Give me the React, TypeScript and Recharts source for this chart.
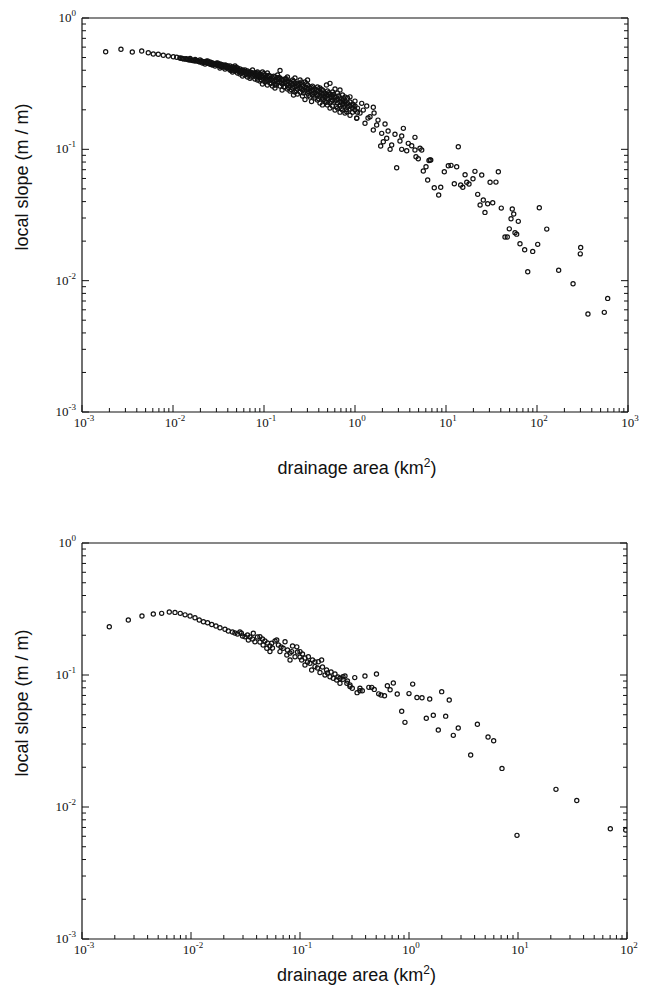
import React from 'react';
import { ScatterChart, Scatter, XAxis, YAxis } from 'recharts';

// [drainage area (km2), local slope (m/m)]
const upperLead: [number, number][] = [
  [0.00182, 0.553], [0.00268, 0.578], [0.00357, 0.551], [0.00453, 0.561], [0.00535, 0.544],
  [0.00607, 0.532], [0.00689, 0.529], [0.00782, 0.52], [0.00888, 0.513], [0.01008, 0.507],
  [0.01098, 0.502],
];

const upperBand: [number, number][] = [
  [0.0119, 0.496], [0.0127, 0.492], [0.0136, 0.487], [0.0145, 0.483], [0.0154, 0.479], [0.0154, 0.492],
  [0.0164, 0.475], [0.0175, 0.471], [0.0175, 0.483], [0.0186, 0.471], [0.0198, 0.462], [0.0198, 0.479],
  [0.0211, 0.466], [0.0211, 0.454], [0.0225, 0.462], [0.0225, 0.447], [0.024, 0.454], [0.024, 0.471],
  [0.0255, 0.447], [0.0255, 0.462], [0.0272, 0.454], [0.0272, 0.439], [0.029, 0.447], [0.029, 0.431],
  [0.0309, 0.439], [0.0309, 0.454], [0.0328, 0.431], [0.0328, 0.447], [0.0328, 0.416], [0.035, 0.439],
  [0.035, 0.424], [0.0373, 0.424], [0.0373, 0.439], [0.0373, 0.409], [0.0397, 0.431], [0.0397, 0.416],
  [0.0423, 0.416], [0.0423, 0.431], [0.0423, 0.402], [0.0451, 0.409], [0.0451, 0.424], [0.0451, 0.388],
  [0.048, 0.409], [0.048, 0.395], [0.048, 0.431], [0.0512, 0.402], [0.0512, 0.416], [0.0512, 0.381],
  [0.0545, 0.395], [0.0545, 0.409], [0.0545, 0.375], [0.0581, 0.402], [0.0581, 0.388], [0.0581, 0.362],
  [0.0618, 0.388], [0.0618, 0.402], [0.0618, 0.368], [0.0659, 0.381], [0.0659, 0.395], [0.0659, 0.355],
  [0.0702, 0.375], [0.0702, 0.388], [0.0702, 0.347], [0.0748, 0.381], [0.0748, 0.362], [0.0748, 0.402],
  [0.0796, 0.368], [0.0796, 0.381], [0.0796, 0.343], [0.0848, 0.362], [0.0848, 0.375], [0.0848, 0.337],
  [0.0848, 0.388], [0.0903, 0.355], [0.0903, 0.375], [0.0903, 0.331], [0.0962, 0.362], [0.0962, 0.349],
  [0.0962, 0.314], [0.0962, 0.388], [0.1025, 0.343], [0.1025, 0.368], [0.1025, 0.326], [0.109, 0.355],
  [0.109, 0.337], [0.109, 0.309], [0.109, 0.381], [0.116, 0.337], [0.116, 0.362], [0.116, 0.32],
  [0.124, 0.349], [0.124, 0.331], [0.124, 0.303], [0.132, 0.331], [0.132, 0.355], [0.132, 0.314],
  [0.132, 0.293], [0.141, 0.343], [0.141, 0.32], [0.141, 0.368], [0.15, 0.326], [0.15, 0.349],
  [0.15, 0.303], [0.15, 0.399], [0.16, 0.314], [0.16, 0.337], [0.158, 0.283], [0.17, 0.32],
  [0.17, 0.343], [0.17, 0.298], [0.181, 0.309], [0.181, 0.331], [0.181, 0.355], [0.181, 0.288],
  [0.193, 0.303], [0.193, 0.326], [0.193, 0.278], [0.206, 0.314], [0.206, 0.293], [0.206, 0.337],
  [0.211, 0.259], [0.219, 0.298], [0.219, 0.32], [0.219, 0.273], [0.219, 0.349], [0.233, 0.288],
  [0.233, 0.309], [0.233, 0.264], [0.249, 0.293], [0.249, 0.314], [0.249, 0.273], [0.249, 0.337],
  [0.265, 0.283], [0.265, 0.303], [0.265, 0.255], [0.282, 0.278], [0.282, 0.298], [0.282, 0.2395],
  [0.282, 0.326], [0.301, 0.288], [0.301, 0.268], [0.301, 0.309], [0.301, 0.337], [0.32, 0.273],
  [0.32, 0.293], [0.32, 0.25], [0.333, 0.231], [0.341, 0.264], [0.341, 0.283], [0.341, 0.303],
  [0.363, 0.268], [0.363, 0.288], [0.363, 0.246], [0.387, 0.259], [0.387, 0.278], [0.387, 0.298],
  [0.387, 0.237], [0.412, 0.255], [0.412, 0.273], [0.412, 0.225], [0.412, 0.293], [0.439, 0.264],
  [0.439, 0.246], [0.439, 0.283], [0.439, 0.218], [0.468, 0.25], [0.468, 0.268], [0.468, 0.233],
  [0.486, 0.309], [0.498, 0.242], [0.498, 0.259], [0.498, 0.278], [0.498, 0.218], [0.531, 0.246],
  [0.531, 0.264], [0.531, 0.318], [0.531, 0.225], [0.531, 0.206], [0.566, 0.237], [0.566, 0.255],
  [0.566, 0.273], [0.566, 0.214], [0.603, 0.233], [0.603, 0.25], [0.603, 0.288], [0.603, 0.199],
  [0.642, 0.225], [0.642, 0.242], [0.642, 0.268], [0.642, 0.206], [0.684, 0.283], [0.684, 0.229],
  [0.684, 0.246], [0.684, 0.214], [0.684, 0.192], [0.729, 0.221], [0.729, 0.237], [0.729, 0.259],
  [0.729, 0.199], [0.776, 0.218], [0.776, 0.233], [0.776, 0.25], [0.776, 0.189], [0.827, 0.21],
  [0.827, 0.225], [0.827, 0.246], [0.881, 0.251], [0.881, 0.214], [0.881, 0.229], [0.881, 0.182],
  [0.881, 0.203], [0.938, 0.206], [0.938, 0.221], [0.938, 0.192], [1.0, 0.199], [1.0, 0.214],
  [1.0, 0.233], [1.044, 0.173], [1.065, 0.192], [1.065, 0.206],
];

// extra points filling the densest part of the upper band
const upperBandInfill: [number, number][] = [
  [0.0123, 0.494], [0.0131, 0.488], [0.014, 0.489], [0.0149, 0.481], [0.0159, 0.48], [0.0169, 0.474],
  [0.0181, 0.476], [0.0192, 0.466], [0.0204, 0.47], [0.0218, 0.458], [0.0232, 0.457], [0.0232, 0.468],
  [0.0248, 0.45], [0.0263, 0.456], [0.0263, 0.443], [0.0281, 0.447], [0.0299, 0.441], [0.0299, 0.452],
  [0.0319, 0.435], [0.0339, 0.442], [0.0339, 0.425], [0.0361, 0.431], [0.0385, 0.42], [0.0385, 0.435],
  [0.041, 0.423], [0.0437, 0.412], [0.0437, 0.398], [0.0465, 0.416], [0.0495, 0.404], [0.0495, 0.421],
  [0.0528, 0.392], [0.0563, 0.398], [0.0563, 0.381], [0.06, 0.395], [0.0638, 0.376], [0.0638, 0.389],
  [0.068, 0.368], [0.0725, 0.383], [0.0725, 0.356], [0.0772, 0.372], [0.0822, 0.355], [0.0822, 0.383],
  [0.0875, 0.368], [0.0932, 0.34], [0.0932, 0.358], [0.0993, 0.376], [0.1058, 0.35], [0.1058, 0.333],
  [0.1126, 0.365], [0.12, 0.342], [0.12, 0.318], [0.128, 0.36], [0.136, 0.337], [0.136, 0.308],
  [0.145, 0.352], [0.155, 0.32], [0.155, 0.34], [0.165, 0.3], [0.175, 0.326], [0.175, 0.345],
  [0.187, 0.296], [0.199, 0.318], [0.199, 0.285], [0.212, 0.33], [0.226, 0.303], [0.226, 0.28],
  [0.241, 0.318], [0.257, 0.291], [0.257, 0.325], [0.273, 0.268], [0.291, 0.293], [0.291, 0.316],
  [0.31, 0.258], [0.33, 0.28], [0.33, 0.298], [0.352, 0.255], [0.375, 0.283], [0.375, 0.262],
  [0.399, 0.243], [0.425, 0.268], [0.425, 0.286], [0.453, 0.24], [0.483, 0.262], [0.483, 0.228],
  [0.514, 0.27], [0.548, 0.232], [0.548, 0.251], [0.584, 0.262], [0.622, 0.238], [0.622, 0.212],
  [0.662, 0.255], [0.706, 0.231], [0.706, 0.205], [0.752, 0.242], [0.801, 0.221], [0.801, 0.2],
];

const upperTail: [number, number][] = [
  [0.743, 0.224], [0.957, 0.2175], [1.185, 0.224], [1.345, 0.2138], [1.589, 0.2089], [0.811, 0.1933],
  [1.044, 0.1722], [1.288, 0.1578], [1.462, 0.1771], [1.73, 0.1531], [2.138, 0.1559], [1.589, 0.1403],
  [1.965, 0.1324], [2.75, 0.1301], [3.4, 0.1445], [3.26, 0.1263], [4.56, 0.1234], [2.23, 0.1213],
  [2.046, 0.1142], [2.53, 0.1078], [1.915, 0.106], [2.43, 0.1], [3.12, 0.1157], [3.85, 0.1111],
  [4.2, 0.1065], [3.26, 0.1], [3.7, 0.0976], [4.56, 0.0988], [5.18, 0.1018], [5.41, 0.0988],
  [13.65, 0.1047], [4.68, 0.0879], [4.96, 0.0848], [2.87, 0.0724], [6.67, 0.0829], [6.8, 0.0829],
  [6.5, 0.0822], [6.03, 0.0737], [5.63, 0.0684], [6.29, 0.0584], [7.43, 0.051], [8.75, 0.0514],
  [8.31, 0.0449], [9.58, 0.0675], [10.6, 0.075], [11.35, 0.0755], [13.1, 0.0737], [12.34, 0.0547],
  [14.5, 0.0535], [16.2, 0.0641], [15.3, 0.0514], [16.9, 0.0561], [17.9, 0.0544], [19.8, 0.0597],
  [20.8, 0.068], [24.7, 0.0637], [22.3, 0.0454], [25.7, 0.0411], [23.7, 0.0377], [28.7, 0.0385],
  [26.8, 0.0331], [32.6, 0.0392], [30.5, 0.0561], [35.4, 0.0563], [37.6, 0.0675], [40.5, 0.0357],
  [53.5, 0.0351], [55.5, 0.0322], [51.8, 0.0296], [62.3, 0.0283], [106, 0.0359], [49.6, 0.0248],
  [44.5, 0.0215], [47.2, 0.0215], [57.3, 0.0232], [59.8, 0.0226], [65, 0.0191], [73.2, 0.0172],
  [89.7, 0.0167], [101.8, 0.0189], [128, 0.0247], [79.1, 0.0117], [173, 0.012], [249, 0.00947],
  [302, 0.0179], [299, 0.016], [363, 0.00557], [549, 0.00574], [598, 0.00733], [1.135, 0.189],
  [1.233, 0.199], [1.39, 0.173], [1.79, 0.167], [1.62, 0.189], [2.31, 0.1378],
];

const lowerLead: [number, number][] = [
  [0.00178, 0.2322], [0.00266, 0.261], [0.00355, 0.28], [0.00451, 0.29], [0.00538, 0.293],
  [0.00632, 0.3], [0.00713, 0.298], [0.00797, 0.293], [0.00882, 0.2856], [0.0098, 0.28],
  [0.01088, 0.2718], [0.0119, 0.261], [0.013, 0.253], [0.0142, 0.2486], [0.0155, 0.2412],
  [0.01695, 0.2351], [0.01844, 0.2282], [0.0205, 0.222], [0.022, 0.2155],
];

const lowerBand: [number, number][] = [
  [0.024, 0.2117], [0.0253, 0.2081], [0.0267, 0.2045], [0.0281, 0.2117], [0.029, 0.2072], [0.0297, 0.1975],
  [0.0313, 0.195], [0.033, 0.2009], [0.0336, 0.1841], [0.0348, 0.194], [0.0367, 0.1874], [0.0373, 0.2072],
  [0.0386, 0.1786], [0.0407, 0.194], [0.0429, 0.195], [0.0429, 0.1778], [0.0453, 0.1874], [0.0459, 0.1687],
  [0.0477, 0.1809], [0.0496, 0.1596], [0.0503, 0.1747], [0.053, 0.1504], [0.053, 0.1658], [0.0549, 0.1742],
  [0.0559, 0.1601], [0.059, 0.1809], [0.0612, 0.1841], [0.0634, 0.1687], [0.0655, 0.1504], [0.067, 0.1629],
  [0.0701, 0.1596], [0.0729, 0.1786], [0.0757, 0.1417], [0.0768, 0.1546], [0.081, 0.1299], [0.081, 0.1467],
  [0.084, 0.1504], [0.0854, 0.1658], [0.09, 0.1376], [0.0935, 0.1634], [0.0949, 0.1493], [0.1, 0.1504],
  [0.1, 0.1368], [0.1035, 0.1299], [0.1054, 0.1442], [0.1111, 0.119], [0.1111, 0.1345], [0.1172, 0.1254],
  [0.1193, 0.1376], [0.1235, 0.1226], [0.1279, 0.1091], [0.1302, 0.1299], [0.1372, 0.1158], [0.1372, 0.1254],
  [0.1447, 0.1129], [0.1471, 0.1261], [0.1525, 0.1044], [0.1579, 0.1299], [0.1608, 0.1149], [0.1695, 0.1],
  [0.1752, 0.1091], [0.1787, 0.1035], [0.1884, 0.0971], [0.1927, 0.1053], [0.2018, 0.0944], [0.2094, 0.1017],
  [0.217, 0.0916], [0.223, 0.0966], [0.2327, 0.0866], [0.2327, 0.0944], [0.248, 0.0929], [0.248, 0.0971],
  [0.2586, 0.0983], [0.269, 0.0866], [0.2725, 0.09], [0.2874, 0.084], [0.2874, 0.0817], [0.3019, 0.0793],
  [0.318, 0.0956], [0.334, 0.0735], [0.355, 0.0759], [0.3549, 0.0793], [0.373, 0.0759], [0.3944, 0.0983],
];

const lowerTail: [number, number][] = [
  [0.428, 0.0806], [0.455, 0.0806], [0.48, 0.0778], [0.503, 0.1017], [0.527, 0.072], [0.554, 0.0705],
  [0.596, 0.0697], [0.633, 0.083], [0.671, 0.0774], [0.718, 0.087], [0.78, 0.0718], [0.857, 0.0531],
  [0.918, 0.0438], [1.0, 0.0723], [1.081, 0.0853], [1.183, 0.0676], [1.316, 0.0672], [1.441, 0.047],
  [1.549, 0.0658], [1.671, 0.0495], [1.857, 0.0383], [1.995, 0.0748], [2.17, 0.0488], [2.34, 0.0647],
  [2.55, 0.0349], [2.83, 0.0397], [3.68, 0.0248], [4.24, 0.0423], [5.31, 0.0339], [5.98, 0.0318],
  [7.13, 0.0196], [9.79, 0.0061], [22.3, 0.0136], [34.6, 0.0112], [70.3, 0.00685], [97.3, 0.00669],
];

// axis decades (powers of ten) and the minor multipliers between them
const upperAreaDecades = [-3, -2, -1, 0, 1, 2, 3];
const lowerAreaDecades = [-3, -2, -1, 0, 1, 2];
const slopeDecades = [-3, -2, -1, 0];
const minorSteps = [1, 2, 3, 4, 5, 6, 7, 8, 9];

const INK = '#111';
const SERIF = "'Liberation Serif', 'Times New Roman', serif";
const SANS = "'Liberation Sans', Arial, Helvetica, sans-serif";
const MAJOR = 7;
const MINOR = 4;

const logTicks = (decades: number[]) => {
  const out: number[] = [];
  decades.forEach((e, i) => {
    if (i === decades.length - 1) {
      out.push(Math.pow(10, e));
      return;
    }
    minorSteps.forEach((m) => out.push(Number((m * Math.pow(10, e)).toPrecision(6))));
  });
  return out;
};

const exponentOf = (v: number) => {
  const lg = Math.log10(v);
  const r = Math.round(lg);
  return Math.abs(lg - r) < 1e-6 ? r : null;
};

const toPoints = (rows: [number, number][]) => rows.map(([area, slope]) => ({ area, slope }));

const Pow = ({ x, y, exp, anchor }: { x: number; y: number; exp: number; anchor: 'middle' | 'end' }) => (
  <text x={x} y={y} textAnchor={anchor} fontFamily={SERIF} fontSize={13} fill={INK}>
    10
    <tspan dy={-6} fontSize={9}>
      {exp < 0 ? `-${-exp}` : `${exp}`}
    </tspan>
  </text>
);

const BottomTick = (props: any) => {
  const { x, y, payload } = props;
  const exp = exponentOf(payload.value);
  return (
    <g>
      <line x1={x} x2={x} y1={y} y2={y - (exp !== null ? MAJOR : MINOR)} stroke={INK} strokeWidth={1} />
      {exp !== null && <Pow x={x + 2} y={y + 15} exp={exp} anchor="middle" />}
    </g>
  );
};

const TopTick = (props: any) => {
  const { x, y, payload } = props;
  const exp = exponentOf(payload.value);
  return <line x1={x} x2={x} y1={y} y2={y + (exp !== null ? MAJOR : MINOR)} stroke={INK} strokeWidth={1} />;
};

const LeftTick = (props: any) => {
  const { x, y, payload } = props;
  const exp = exponentOf(payload.value);
  return (
    <g>
      <line x1={x} x2={x + (exp !== null ? MAJOR : MINOR)} y1={y} y2={y} stroke={INK} strokeWidth={1} />
      {exp !== null && <Pow x={x - 6} y={y + 4} exp={exp} anchor="end" />}
    </g>
  );
};

const RightTick = (props: any) => {
  const { x, y, payload } = props;
  const exp = exponentOf(payload.value);
  return <line x1={x} x2={x - (exp !== null ? MAJOR : MINOR)} y1={y} y2={y} stroke={INK} strokeWidth={1} />;
};

const Ring = (props: any) => (
  <circle cx={props.cx} cy={props.cy} r={2.1} fill="none" stroke={INK} strokeWidth={1.2} />
);

interface PanelProps {
  points: { area: number; slope: number }[];
  areaDecades: number[];
  height: number;
  margin: { top: number; right: number; bottom: number; left: number };
  areaTitleDrop: number;
}

const Panel: React.FC<PanelProps> = ({ points, areaDecades, height, margin, areaTitleDrop }) => {
  const areaTicks = logTicks(areaDecades);
  const slopeTicks = logTicks(slopeDecades);
  const areaDomain = [Math.pow(10, areaDecades[0]), Math.pow(10, areaDecades[areaDecades.length - 1])];
  const slopeDomain = [Math.pow(10, slopeDecades[0]), Math.pow(10, slopeDecades[slopeDecades.length - 1])];
  const axisLine = { stroke: INK, strokeWidth: 1.2 };

  const areaTitle = (p: any) => {
    const vb = p.viewBox;
    return (
      <text x={vb.x + vb.width / 2 + 2} y={vb.y + areaTitleDrop} textAnchor="middle" fontFamily={SANS} fontSize={18} fill={INK}>
        drainage area (km
        <tspan dy={-7} fontSize={12}>2</tspan>
        <tspan dy={7}>)</tspan>
      </text>
    );
  };

  const slopeTitle = (p: any) => {
    const vb = p.viewBox;
    const cx = vb.x - 53;
    const cy = vb.y + vb.height / 2 - 38;
    return (
      <text x={cx} y={cy} transform={`rotate(-90, ${cx}, ${cy})`} textAnchor="middle" fontFamily={SANS} fontSize={18} fill={INK}>
        local slope (m / m)
      </text>
    );
  };

  // axes need a non-zero size to be drawn, so each gets 1px taken out of the margin
  const m = { top: margin.top - 1, right: margin.right - 1, bottom: margin.bottom - 1, left: margin.left - 1 };

  return (
    <ScatterChart width={647} height={height} margin={m}>
      <XAxis
        xAxisId="b"
        dataKey="area"
        type="number"
        scale="log"
        domain={areaDomain}
        ticks={areaTicks}
        interval={0}
        height={1}
        tickSize={0}
        tickMargin={0}
        tickLine={false}
        axisLine={axisLine}
        tick={<BottomTick />}
        allowDataOverflow
        label={{ content: areaTitle }}
      />
      <XAxis
        xAxisId="t"
        orientation="top"
        type="number"
        scale="log"
        domain={areaDomain}
        ticks={areaTicks}
        interval={0}
        height={1}
        tickSize={0}
        tickMargin={0}
        tickLine={false}
        axisLine={axisLine}
        tick={<TopTick />}
        allowDataOverflow
      />
      <YAxis
        yAxisId="l"
        dataKey="slope"
        type="number"
        scale="log"
        domain={slopeDomain}
        ticks={slopeTicks}
        interval={0}
        width={1}
        tickSize={0}
        tickMargin={0}
        tickLine={false}
        axisLine={axisLine}
        tick={<LeftTick />}
        allowDataOverflow
        label={{ content: slopeTitle }}
      />
      <YAxis
        yAxisId="r"
        orientation="right"
        type="number"
        scale="log"
        domain={slopeDomain}
        ticks={slopeTicks}
        interval={0}
        width={1}
        tickSize={0}
        tickMargin={0}
        tickLine={false}
        axisLine={axisLine}
        tick={<RightTick />}
        allowDataOverflow
      />
      <Scatter data={points} xAxisId="b" yAxisId="l" shape={Ring} isAnimationActive={false} />
      <Scatter data={[]} xAxisId="t" yAxisId="r" isAnimationActive={false} />
    </ScatterChart>
  );
};

export default function App() {
  const upper = toPoints([...upperLead, ...upperBand, ...upperBandInfill, ...upperTail]);
  const lower = toPoints([...lowerLead, ...lowerBand, ...lowerTail]);
  return (
    <div style={{ position: 'absolute', left: 0, top: 0, width: 647, height: 995, background: '#fff' }}>
      <div style={{ position: 'absolute', left: 0, top: 0 }}>
        <Panel
          points={upper}
          areaDecades={upperAreaDecades}
          height={497}
          margin={{ top: 18, right: 19, bottom: 85, left: 82 }}
          areaTitleDrop={62}
        />
      </div>
      <div style={{ position: 'absolute', left: 0, top: 497 }}>
        <Panel
          points={lower}
          areaDecades={lowerAreaDecades}
          height={498}
          margin={{ top: 46, right: 20, bottom: 56, left: 82 }}
          areaTitleDrop={42}
        />
      </div>
    </div>
  );
}
